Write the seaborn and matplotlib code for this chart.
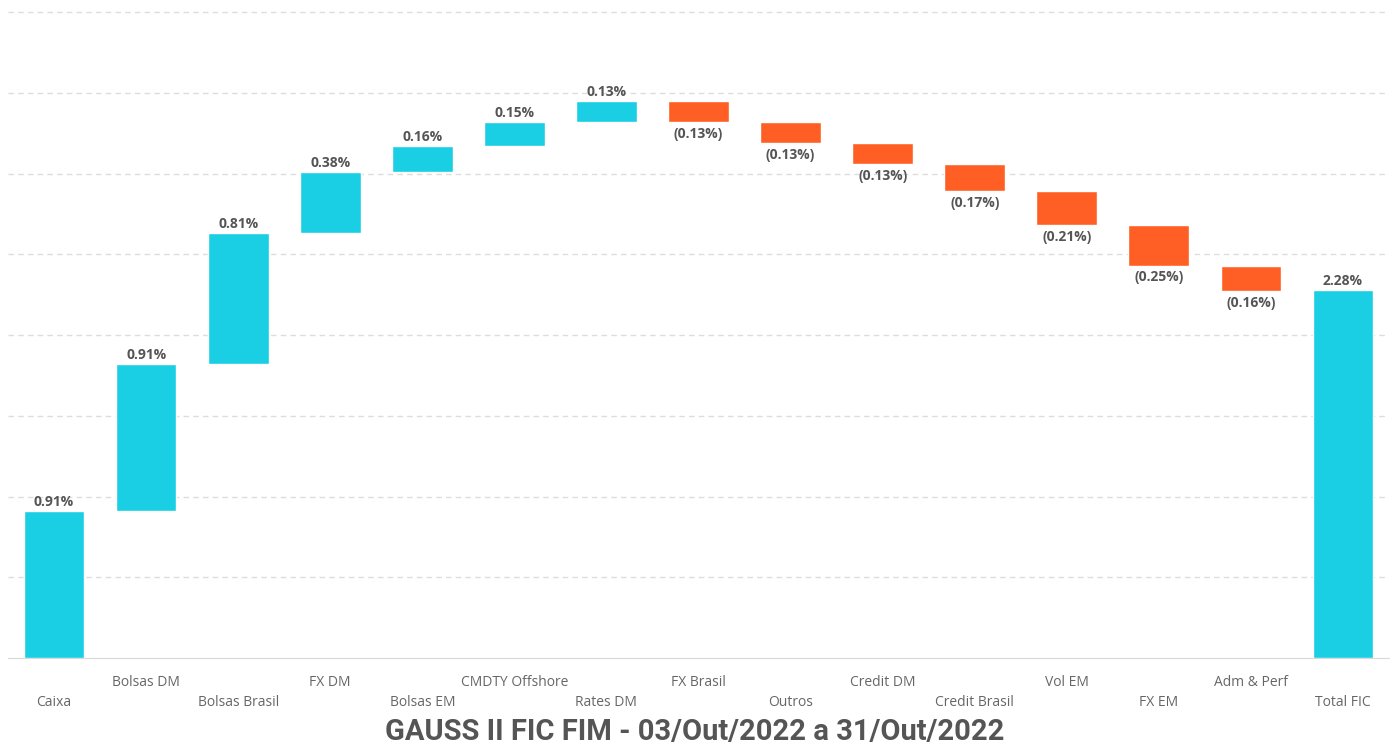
import numpy as np
import pandas as pd
import matplotlib.pyplot as plt
import seaborn as sns

categorias = ['Caixa', 'Bolsas DM', 'Bolsas Brasil', 'FX DM', 'Bolsas EM', 'CMDTY Offshore',
              'Rates DM', 'FX Brasil', 'Outros', 'Credit DM', 'Credit Brasil', 'Vol EM',
              'FX EM', 'Adm & Perf', 'Total FIC']
valores = [0.91, 0.91, 0.81, 0.38, 0.16, 0.15, 0.13, -0.13, -0.13, -0.13, -0.17, -0.21,
           -0.25, -0.16, 2.28]
titulo = 'GAUSS II FIC FIM - 03/Out/2022 a 31/Out/2022'

azul = '#1ACFE3'
laranja = '#FF5F24'

sns.set_style('white')
plt.rcParams['font.family'] = ['Open Sans', 'DejaVu Sans']

df = pd.DataFrame({'cat': categorias, 'val': valores})
# base de cada degrau (o total parte do zero)
inicio = np.concatenate([[0], np.cumsum(valores[:-1])[:-1]])
df['base'] = list(inicio) + [0]
df['altura'] = df.val.abs()
df['bottom'] = np.where(df.val < 0, df.base + df.val, df.base)
cores = [azul if v >= 0 else laranja for v in valores]

fig = plt.figure(figsize=(13.9, 7.47), dpi=100)
ax = fig.add_axes([8 / 1390, 1 - 658 / 747, 1381 / 1390, (658 - 10) / 747])

sns.barplot(data=df, x='cat', y='altura', hue='cat', palette=cores, legend=False,
            width=0.66, saturation=1, ax=ax, zorder=3)
for p, b in zip(ax.patches, df.bottom):
    p.set_y(b)

for i, row in df.iterrows():
    if row.val >= 0:
        ax.text(i, row.bottom + row.altura + 0.012, f'{row.val:.2f}%', ha='center', va='bottom',
                fontsize=10, fontweight='bold', color='#555555')
    else:
        ax.text(i, row.bottom - 0.03, f'({abs(row.val):.2f}%)', ha='center', va='top',
                fontsize=10, fontweight='bold', color='#555555')

ax.set_ylim(0, 4.0124)
ax.set_xlim(-0.5, len(categorias) - 0.5)
for y in np.arange(0.5, 4.01, 0.5):
    ax.axhline(y, color='#dddddd', lw=1, ls=(0, (4, 3)), zorder=0)

sns.despine(ax=ax, left=True, top=True, right=True)
ax.spines['bottom'].set_color('#d9d9d9')
ax.set_yticks([])
ax.set_ylabel('')
ax.set_xlabel('')
ax.set_xticks(range(len(categorias)))
ax.set_xticklabels([])
ax.set_xticks(np.arange(-0.5, len(categorias), 1), minor=True)
ax.tick_params(axis='x', which='major', length=0)
ax.tick_params(axis='x', which='minor', length=4, direction='in', color='#d9d9d9')

for i, c in enumerate(categorias):
    y = -0.152 if i % 2 == 1 else -0.277
    ax.text(i, y, c, ha='center', va='center', fontsize=10, color='#666666')

fig.text(0.5, 1 - 732 / 747, titulo, ha='center', va='center', fontsize=21,
         fontweight='bold', color='#555555', family=['Roboto', 'DejaVu Sans'])

plt.savefig('out.png', dpi=100)
